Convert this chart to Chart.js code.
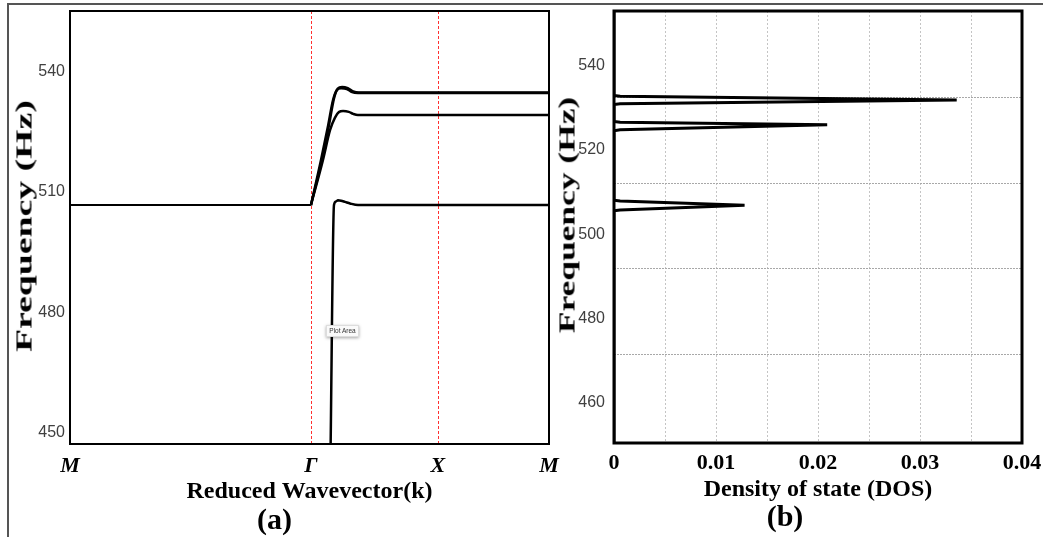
<!DOCTYPE html>
<html>
<head>
<meta charset="utf-8">
<script src="https://cdn.jsdelivr.net/npm/chart.js@4.4.0/dist/chart.umd.min.js"></script>
<style>
  html, body { margin: 0; padding: 0; background: #fff; }
  body { width: 1043px; height: 537px; position: relative; overflow: hidden; }
  .frame { position: absolute; left: 7px; top: 3px; right: -6px; bottom: -6px;
           border-top: 2px solid #555; border-left: 2px solid #555; }
  #bandChart { position: absolute; top: 0; left: 0; }
  #dosChart { position: absolute; top: 0; left: 548px; }
  .ytitle { position: absolute; white-space: nowrap; color: #000;
            font: bold 23px 'Liberation Serif', 'Times New Roman', serif; line-height: 23px; }
  #ytitleA { left: 24px; top: 226px; transform: translate(-50%, -50%) rotate(-90deg) scaleX(1.64); }
  #ytitleB { left: 567px; top: 215px; transform: translate(-50%, -50%) rotate(-90deg) scaleX(1.54); }
  .tip { position: absolute; left: 326px; top: 325px; width: 31px; height: 10px;
         font: 6.5px 'Liberation Sans', Arial, sans-serif; line-height: 10px; text-align: center;
         color: #333; background: #fafafa; border: 1px solid #ddd;
         box-shadow: 0 1px 3px rgba(0,0,0,0.35); }
</style>
</head>
<body>
<div class="frame"></div>
<canvas id="bandChart" width="560" height="537"></canvas>
<canvas id="dosChart" width="495" height="537"></canvas>
<div class="ytitle" id="ytitleA">Frequency (Hz)</div>
<div class="ytitle" id="ytitleB">Frequency (Hz)</div>
<div class="tip">Plot Area</div>

<script>
// ---- (a) band structure ----
const kTicks = [0, 0.503, 0.768, 1];
const kLabels = ['M', 'Γ', 'X', 'M'];
const kMarks = [0.503, 0.768];           // red dashed symmetry lines (Γ, X)
const freqTicksA = [450, 480, 510, 540];

const flatK = [0, 0.503];
const flatF = [506.7, 506.7];

const bandA1K = [0.503, 0.524, 0.539, 0.549, 0.557, 0.566, 0.578, 0.589, 0.601, 1];
const bandA1F = [506.7, 517.9, 526.6, 532.8, 535.3, 535.8, 535.6, 534.8, 534.6, 534.6];
const bandA2K = [0.503, 0.526, 0.541, 0.551, 0.559, 0.568, 0.580, 0.591, 0.603, 1];
const bandA2F = [506.7, 518.0, 526.8, 533.2, 535.7, 536.1, 535.8, 535.0, 534.7, 534.7];
const bandBK = [0.503, 0.528, 0.543, 0.553, 0.562, 0.570, 0.582, 0.591, 0.601, 1];
const bandBF = [506.7, 517.9, 525.4, 528.4, 529.9, 530.1, 529.9, 529.4, 529.1, 529.1];
const bandCK = [0.5434, 0.5511, 0.5553, 0.5595, 0.5658, 0.5741, 0.5846, 0.6013, 1];
const bandCF = [440, 506.7, 507.6, 507.9, 507.8, 507.5, 507.1, 506.7, 506.7];

// ---- (b) density of states ----
const dosTicks = [0, 0.005, 0.01, 0.015, 0.02, 0.025, 0.03, 0.035, 0.04];
const dosTickLabels = ['0', '', '0.01', '', '0.02', '', '0.03', '', '0.04'];
const freqTicksB = [460, 480, 500, 520, 540];
const freqGridB = [471.6, 491.8, 512.0, 532.4];

const dosFreq = [450, 505.6, 505.8, 506.9, 507.9, 508.1, 524.6, 524.8, 526.0, 526.6, 526.8,
                 530.8, 531.0, 531.9, 532.75, 532.95, 555];
const dosVal  = [0, 0, 0.0006, 0.0128, 0.0006, 0, 0, 0.0006, 0.0209, 0.0006, 0,
                 0, 0.0006, 0.0336, 0.0006, 0, 0];

const serif = "'Liberation Serif', 'Times New Roman', serif";
const sans = "'Liberation Sans', Arial, sans-serif";

function pts(xs, ys) {
    return xs.map((x, i) => ({ x: x, y: ys[i] }));
}

// box around the plot area
const framePlugin = {
    id: 'frame',
    afterDatasetsDraw(chart, args, opts) {
        const { ctx, chartArea: a } = chart;
        ctx.save();
        ctx.strokeStyle = '#000';
        ctx.lineWidth = opts.width || 2;
        ctx.strokeRect(a.left, a.top, a.right - a.left, a.bottom - a.top);
        ctx.restore();
    }
};

// dashed vertical markers at the high-symmetry points
const markPlugin = {
    id: 'marks',
    beforeDatasetsDraw(chart, args, opts) {
        const { ctx, chartArea: a, scales: { x } } = chart;
        ctx.save();
        ctx.strokeStyle = opts.color;
        ctx.lineWidth = 1;
        ctx.setLineDash([3, 2]);
        opts.values.forEach(v => {
            const px = Math.round(x.getPixelForValue(v)) + 0.5;
            ctx.beginPath();
            ctx.moveTo(px, a.top);
            ctx.lineTo(px, a.bottom);
            ctx.stroke();
        });
        ctx.restore();
    }
};

function line(xs, ys, width) {
    return {
        data: pts(xs, ys),
        showLine: true,
        pointRadius: 0,
        borderColor: '#000',
        borderWidth: width,
        cubicInterpolationMode: 'monotone'
    };
}

// fixed axis sizes so the plot areas land where the figure has them
function fixY(width) {
    return s => { s.width = width; s.paddingTop = 0; s.paddingBottom = 0; };
}
function fixX(height) {
    return s => { s.height = height; s.paddingLeft = 0; s.paddingRight = 0; };
}

new Chart(document.getElementById('bandChart'), {
    type: 'scatter',
    data: {
        datasets: [
            line(flatK, flatF, 2),
            line(bandA1K, bandA1F, 2.5),
            line(bandA2K, bandA2F, 2.5),
            line(bandBK, bandBF, 2.5),
            line(bandCK, bandCF, 2.5)
        ]
    },
    plugins: [markPlugin, framePlugin],
    options: {
        responsive: false,
        animation: false,
        devicePixelRatio: 1,
        layout: { padding: { top: 11, right: 11, left: 0, bottom: 0 } },
        plugins: {
            legend: { display: false },
            tooltip: { enabled: false },
            frame: { width: 2 },
            marks: { values: kMarks, color: '#ff3030' },
            title: {
                display: true, position: 'bottom', text: '(a)', color: '#000',
                font: { family: serif, size: 30, weight: 'bold', lineHeight: 1 },
                padding: { top: 0, bottom: 1 }
            }
        },
        scales: {
            x: {
                type: 'linear', min: 0, max: 1,
                afterBuildTicks: s => { s.ticks = kTicks.map(v => ({ value: v })); },
                afterFit: fixX(62),
                ticks: {
                    callback: (v, i) => kLabels[i],
                    font: { family: serif, size: 22, weight: 'bold', style: 'italic' },
                    color: '#000', padding: 9, maxRotation: 0, autoSkip: false
                },
                grid: { display: false, drawTicks: false },
                border: { display: false },
                title: {
                    display: true, text: 'Reduced Wavevector(k)', color: '#000',
                    font: { family: serif, size: 24, weight: 'bold', lineHeight: 1 },
                    padding: { top: 0, bottom: 2 }
                }
            },
            y: {
                min: 447.25, max: 555,
                afterBuildTicks: s => { s.ticks = freqTicksA.map(v => ({ value: v })); },
                afterFit: fixY(70),
                ticks: { font: { family: sans, size: 16 }, color: '#404040', padding: 5 },
                grid: { display: false, drawTicks: false },
                border: { display: false },
                title: { display: false }
            }
        }
    }
});

new Chart(document.getElementById('dosChart'), {
    type: 'scatter',
    data: {
        datasets: [{
            data: pts(dosVal, dosFreq),
            showLine: true,
            pointRadius: 0,
            borderColor: '#000',
            borderWidth: 3,
            tension: 0
        }]
    },
    plugins: [framePlugin],
    options: {
        responsive: false,
        animation: false,
        devicePixelRatio: 1,
        layout: { padding: { top: 11, right: 21, left: 0, bottom: 0 } },
        plugins: {
            legend: { display: false },
            tooltip: { enabled: false },
            frame: { width: 3 },
            title: {
                display: true, position: 'bottom', text: '(b)', color: '#000',
                font: { family: serif, size: 30, weight: 'bold', lineHeight: 1 },
                padding: { top: 0, bottom: 4 }
            }
        },
        scales: {
            x: {
                type: 'linear', min: 0, max: 0.04,
                afterBuildTicks: s => { s.ticks = dosTicks.map(v => ({ value: v })); },
                afterFit: fixX(60),
                ticks: {
                    callback: (v, i) => dosTickLabels[i],
                    font: { family: serif, size: 22, weight: 'bold' },
                    color: '#000', padding: 7, maxRotation: 0, autoSkip: false
                },
                grid: {
                    drawTicks: false, lineWidth: 1,
                    color: c => (c.index === 0 || c.index === dosTicks.length - 1) ? 'rgba(0,0,0,0)' : '#c4c4c4'
                },
                border: { display: false, dash: [2, 2] },
                title: {
                    display: true, text: 'Density of state (DOS)', color: '#000',
                    font: { family: serif, size: 24, weight: 'bold', lineHeight: 1 },
                    padding: { top: 0, bottom: 1 }
                }
            },
            y: {
                position: 'left',
                min: 450.5, max: 553,
                afterBuildTicks: s => { s.ticks = freqTicksB.map(v => ({ value: v })); },
                afterFit: fixY(66),
                ticks: { font: { family: sans, size: 16 }, color: '#404040', padding: 9 },
                grid: { display: false, drawTicks: false },
                border: { display: false },
                title: { display: false }
            },
            yg: {
                position: 'left',
                min: 450.5, max: 553,
                afterBuildTicks: s => { s.ticks = freqGridB.map(v => ({ value: v })); },
                afterFit: fixY(0),
                ticks: { display: false },
                grid: { drawTicks: false, color: '#a8a8a8', lineWidth: 1 },
                border: { display: false, dash: [2, 1] }
            }
        }
    }
});
</script>
</body>
</html>
